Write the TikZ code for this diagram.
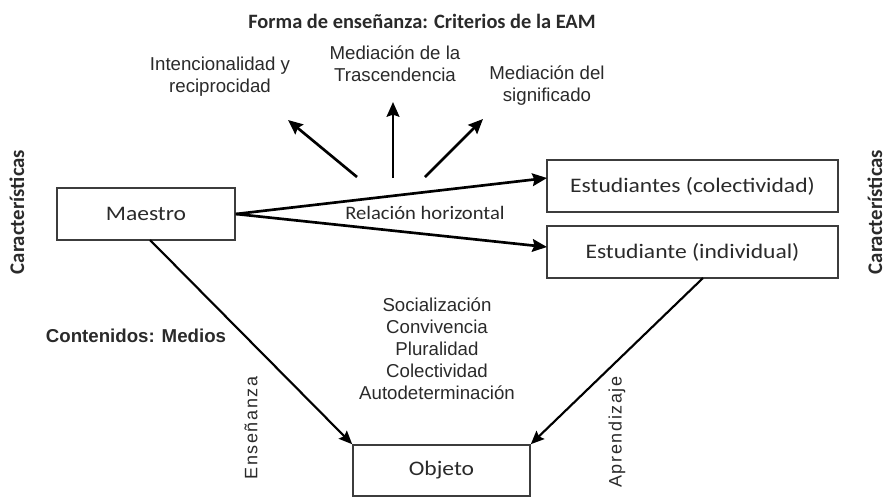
\documentclass[tikz,border=0pt]{standalone}
\usepackage{fontspec}
\setmainfont{Liberation Sans}
\newfontfamily\calibfont[FakeStretch=1.14]{Carlito}
\newfontfamily\calibrel[FakeStretch=1.08]{Carlito}
\newfontfamily\calibbold[FakeStretch=1.0]{Carlito}
\usetikzlibrary{arrows.meta}
\definecolor{txt}{HTML}{2A2A2A}
\definecolor{boxline}{HTML}{3C3C3C}
\begin{document}
\begin{tikzpicture}[x=0.75pt,y=-0.75pt,
  box/.style={draw=boxline, line width=1.2pt, inner sep=0pt, text=txt,
    font=\calibfont\fontsize{15.5}{18}\selectfont},
  arrowline/.style={draw=black, line width=2pt, -{Stealth[length=11pt,width=9.5pt,inset=1.5pt]}},
  diagline/.style={draw=black, line width=1.6pt, -{Stealth[length=10pt,width=8.5pt,inset=1.5pt]}},
  arialtxt/.style={text=txt, align=center, inner sep=0pt,
    font=\fontsize{14}{16.5}\selectfont},
  sidetxt/.style={text=txt, rotate=90, inner sep=0pt,
    font=\calibbold\bfseries\fontsize{15.6}{18}\selectfont},
  lettxt/.style={text=txt, rotate=90, inner sep=0pt,
    font=\addfontfeatures{LetterSpace=9}\fontsize{13.5}{16}\selectfont}]
\path[use as bounding box] (0,0) rectangle (886,497);

% title
\node[text=txt, inner sep=0pt, font=\calibbold\bfseries\fontsize{15.3}{18}\selectfont] (title) at (422,21) {Forma de enseñanza: Criterios de la EAM};

% criteria labels
\node[arialtxt] (intenc) at (220,77) {Intencionalidad y\\reciprocidad};
\node[arialtxt] (trasc) at (395,64) {Mediación de la\\Trascendencia};
\node[arialtxt] (signif) at (547,86) {Mediación del\\significado};

% boxes
\node[box, minimum width=133.5pt, minimum height=39pt] (maestro) at (146,214) {Maestro};
\node[box, minimum width=218.25pt, minimum height=39pt] (colec) at (692.5,186) {Estudiantes (colectividad)};
\node[box, minimum width=218.25pt, minimum height=39pt] (indiv) at (692.5,252) {Estudiante (individual)};
\node[box, minimum width=132.75pt, minimum height=38.25pt] (objeto) at (441.5,470.5) {Objeto};

% fan arrows
\coordinate (fa1) at (357,177);
\coordinate (fb1) at (288,120);
\coordinate (fa2) at (393,178);
\coordinate (fb2) at (393,102);
\coordinate (fa3) at (425,177);
\coordinate (fb3) at (483,119);
\draw[arrowline] (fa1) -- (fb1);
\draw[arrowline] (fa2) -- (fb2);
\draw[arrowline] (fa3) -- (fb3);

% horizontal relation
\coordinate (tc) at (547,178);
\coordinate (ti) at (547,247);
\draw[arrowline] (maestro.east) -- (tc);
\draw[arrowline] (maestro.east) -- (ti);
\node[text=txt, inner sep=0pt, font=\calibrel\fontsize{14.3}{17}\selectfont] (rel) at (425,213) {Relación horizontal};

% diagonal lines to object
\coordinate (ms) at (150,240);
\coordinate (is) at (703,278);
\draw[diagline] (ms) -- (objeto.north west);
\draw[diagline] (is) -- (objeto.north east);

% middle list
\node[arialtxt, font=\fontsize{14}{16.5}\selectfont] (lista) at (437,349)
  {Socialización\\Convivencia\\Pluralidad\\Colectividad\\Autodeterminación};

% side labels
\node[text=txt, inner sep=0pt, font=\bfseries\fontsize{14}{17}\selectfont] (conten) at (136,336) {Contenidos: Medios};
\node[sidetxt] (carL) at (17,212) {Características};
\node[sidetxt] (carR) at (875,212) {Características};
\node[lettxt] (ens) at (251,428) {Enseñanza};
\node[lettxt] (apr) at (617,432) {Aprendizaje};
\end{tikzpicture}
\end{document}
